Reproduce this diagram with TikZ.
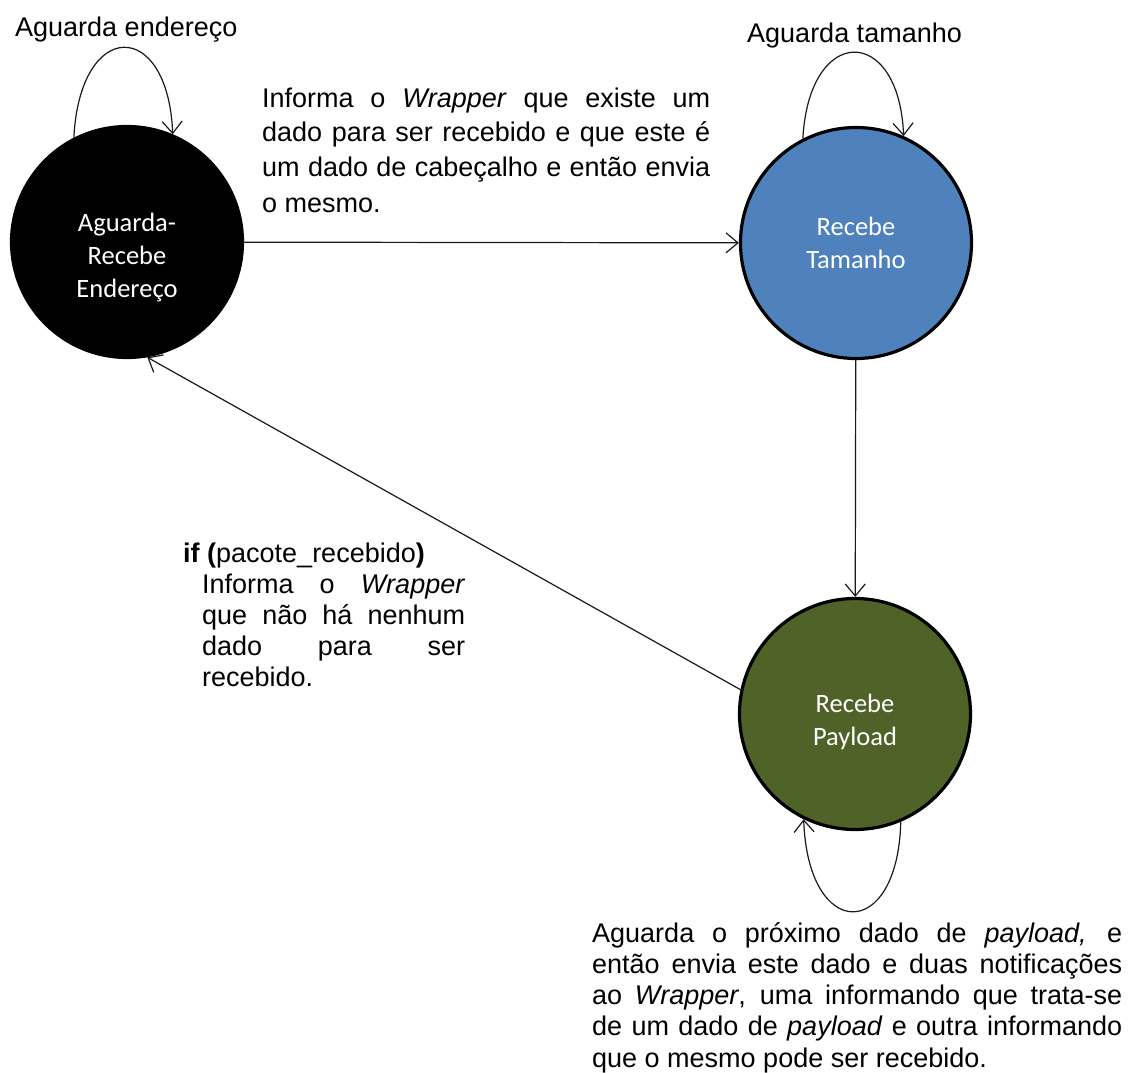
\documentclass[tikz,border=0pt]{standalone}
\usepackage{fontspec}
\setmainfont{Liberation Sans}
\newfontfamily\statefont{Carlito}
\usetikzlibrary{arrows.meta}
\definecolor{stateblue}{HTML}{4F81BD}
\definecolor{stategreen}{HTML}{4F6228}

\begin{document}
\begin{tikzpicture}[x=1pt,y=-1pt,
  state/.style={circle, draw=black, line width=3.2pt, minimum size=231pt, inner sep=0pt},
  statetext/.style={inner sep=0pt, text=white, align=center,
    font=\statefont\fontsize{26.5}{33}\selectfont},
  trans/.style={draw=black!90, line width=1.2pt,
    -{Straight Barb[length=12pt,width=20pt,line width=1.2pt]}},
  note/.style={inner sep=0pt, anchor=base west, font=\fontsize{27}{35}\selectfont},
  para/.style 2 args={inner sep=0pt, anchor=base west, text width=#1, align=justify,
    font={\fontsize{27}{#2}\selectfont\tolerance=10000\relax\hbadness=10000\relax
      \hyphenpenalty=10000\relax}},
]
\useasboundingbox (0,0) rectangle (1128,1073);

% states
\node[state, fill=black,
  label={[statetext, yshift=-16pt]center:Aguarda-\\Recebe\\Endereço}] (s1) at (127,242) {};
\node[state, fill=stateblue,
  label={[statetext]center:Recebe\\Tamanho}] (s2) at (856,243) {};
\node[state, fill=stategreen,
  label={[statetext, yshift=-8pt]center:Recebe\\Payload}] (s3) at (855,714) {};

% self loops
\draw[trans] (s1.117) .. controls (80,18) and (168,18) .. (s1.67);
\draw[trans] (s2.117) .. controls (809,24) and (899,24) .. (s2.66);
\draw[trans] (s3.293) .. controls (898,942) and (808,942) .. (s3.244);

% transitions
\draw[trans] (s1) -- (s2);
\draw[trans] (s2) -- (s3);
\draw[trans] (s3.168) -- (s1.280);

% loop labels
\node[note] (l1) at (15,37) {Aguarda endereço};
\node[note] (l2) at (747,43) {Aguarda tamanho};

% transition descriptions
\node[para={448pt}{35pt}] (t12) at (262,107)
  {Informa o \textit{Wrapper} que existe um\linebreak
   dado para ser recebido e que este é\linebreak
   um dado de cabeçalho e então envia\linebreak
   o mesmo.};

\node[note] (c31) at (183,562) {\textbf{if (}pacote\_recebido\textbf{)}};
\node[para={263pt}{31.3pt}] (t31) at (202,593)
  {Informa o \textit{Wrapper}\linebreak
   que não há nenhum\linebreak
   dado para ser\linebreak
   recebido.};

\node[para={530pt}{31.3pt}] (t33) at (592,942)
  {Aguarda o próximo dado de \textit{payload,} e\linebreak
   então envia este dado e duas notificações\linebreak
   ao \textit{Wrapper}, uma informando que trata-se\linebreak
   de um dado de \textit{payload} e outra informando\linebreak
   que o mesmo pode ser recebido.};
\end{tikzpicture}
\end{document}
